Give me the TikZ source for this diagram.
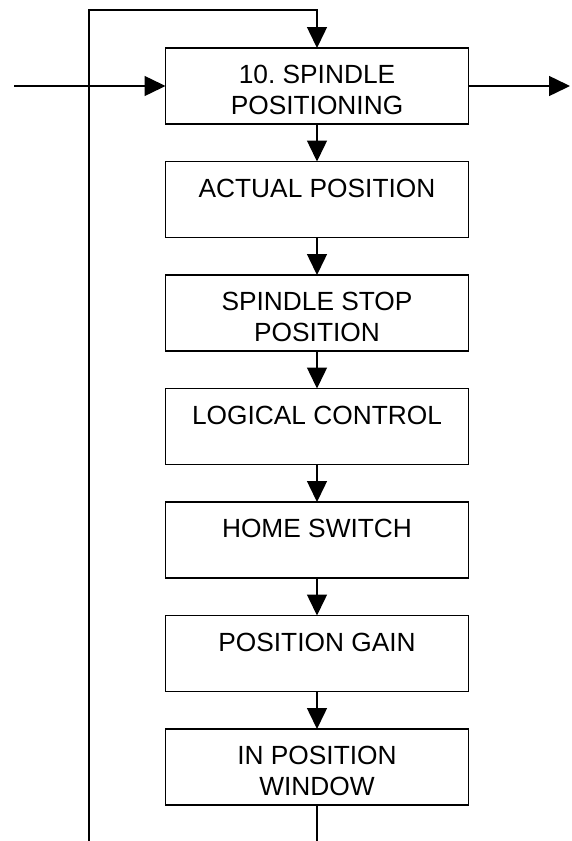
\documentclass[tikz,border=0pt]{standalone}
\usepackage{fontspec}
\setmainfont{Liberation Sans}
\usetikzlibrary{arrows.meta}
\frenchspacing
\newcommand{\boxtext}[1]{\parbox[t][76pt][t]{303pt}{\centering\fontsize{26.3pt}{31pt}\selectfont\rule{0pt}{35.8pt}#1}}
\tikzset{
  stepbox/.style={draw, line width=1.5pt, inner sep=0pt, outer sep=0pt},
  arr/.style={line width=1.5pt, -{Triangle[length=21pt,width=20pt]}},
  ln/.style={line width=1.5pt}
}
\begin{document}
\begin{tikzpicture}[x=1pt,y=1pt]
\useasboundingbox (0,0) rectangle (571,-841);
\node[stepbox] (b1) at (317,-86) {\boxtext{10. SPINDLE\\POSITIONING}};
\node[stepbox] (b2) at (317,-199.5) {\boxtext{ACTUAL POSITION}};
\node[stepbox] (b3) at (317,-313) {\boxtext{SPINDLE STOP\\POSITION}};
\node[stepbox] (b4) at (317,-426.5) {\boxtext{LOGICAL CONTROL}};
\node[stepbox] (b5) at (317,-540) {\boxtext{HOME SWITCH}};
\node[stepbox] (b6) at (317,-653.5) {\boxtext{POSITION GAIN}};
\node[stepbox] (b7) at (317,-767) {\boxtext{IN POSITION\\WINDOW}};
\coordinate (lb) at (89,-841);
\coordinate (tp) at (317,-10);
\coordinate (in) at (14,-86);
\coordinate (out) at (570,-86);
\coordinate (bot) at (317,-841);
\draw[arr] (lb) |- (tp) -- (b1);
\draw[arr] (in) -- (b1);
\draw[arr] (b1) -- (out);
\draw[arr] (b1) -- (b2);
\draw[arr] (b2) -- (b3);
\draw[arr] (b3) -- (b4);
\draw[arr] (b4) -- (b5);
\draw[arr] (b5) -- (b6);
\draw[arr] (b6) -- (b7);
\draw[ln] (b7) -- (bot);
\end{tikzpicture}
\end{document}
